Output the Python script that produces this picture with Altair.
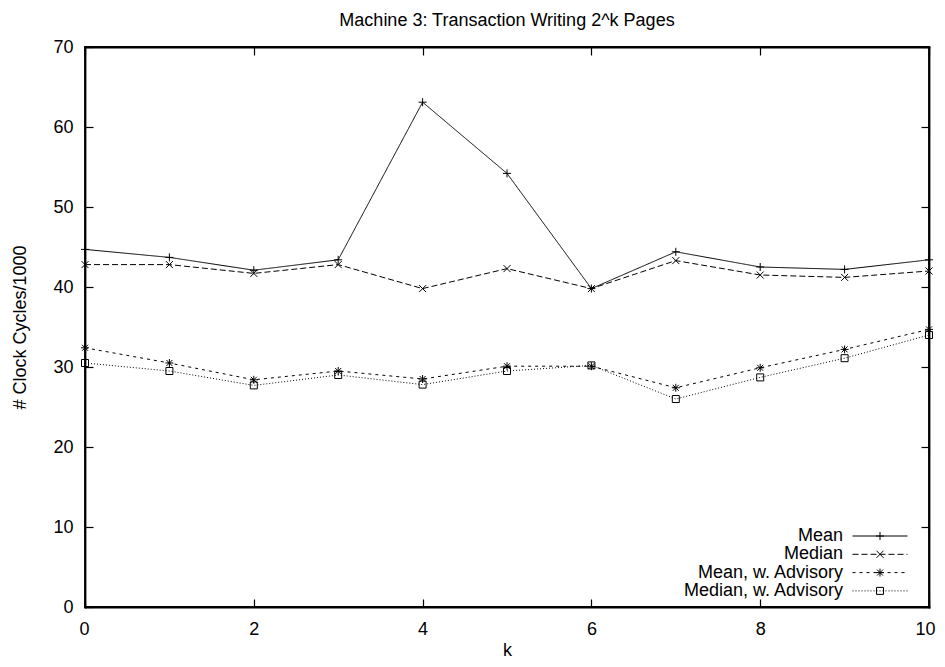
import altair as alt
import pandas as pd

# ---- data ----
k_values = [0, 1, 2, 3, 4, 5, 6, 7, 8, 9, 10]
series_names = ["Mean", "Median", "Mean, w. Advisory", "Median, w. Advisory"]
mean = [44.7, 43.7, 42.1, 43.4, 63.1, 54.2, 39.8, 44.4, 42.5, 42.2, 43.4]
median = [42.8, 42.8, 41.7, 42.8, 39.8, 42.3, 39.8, 43.3, 41.5, 41.2, 42.0]
mean_adv = [32.4, 30.5, 28.4, 29.5, 28.5, 30.1, 30.1, 27.4, 29.9, 32.2, 34.7]
median_adv = [30.5, 29.5, 27.7, 29.0, 27.8, 29.5, 30.2, 26.0, 28.7, 31.1, 34.0]
x_ticks = [0, 2, 4, 6, 8, 10]
y_ticks = [0, 10, 20, 30, 40, 50, 60, 70]
title_text = "Machine 3: Transaction Writing 2^k Pages"
x_title = "k"
y_title = "# Clock Cycles/1000"

rows = []
for name, vals in zip(series_names, [mean, median, mean_adv, median_adv]):
    for k, v in zip(k_values, vals):
        rows.append({"k": k, "value": v, "series": name})
df = pd.DataFrame(rows)

# ---- styling ----
W, H = 844, 560
FONT = "Liberation Sans"
FS = 18
dash_patterns = [[1, 0], [6, 3], [3, 4], [1, 2]]


def plus_p(c=0):
    return f"M{c-4},0H{c+4}M{c},-4V4"


def cross_p(c=0, r=3.5):
    return f"M{c-r},{-r}L{c+r},{r}M{c-r},{r}L{c+r},{-r}"


def square_p(c=0, r=3.5):
    return f"M{c-r},{-r}H{c+r}V{r}H{c-r}Z"


def markers(c=0):
    return [plus_p(c), cross_p(c), plus_p(c) + cross_p(c, 3), square_p(c)]


def sample_line(pattern, c=0, half=27.5):
    x0, x1 = c - half, c + half
    d, g = pattern
    if g == 0:
        return f"M{x0},0H{x1}"
    parts = []
    x = x0
    while x < x1:
        e = min(x + d, x1)
        parts.append(f"M{x},0H{e}")
        x = e + g
    return "".join(parts)


marker_paths = markers(0)
SHIFT = 46
legend_paths = ["M-260,0" + m + sample_line(p, SHIFT)
                for m, p in zip(markers(SHIFT), dash_patterns)]

x_scale = alt.Scale(domain=[0, 10], nice=False, zero=False)
y_scale = alt.Scale(domain=[0, 70], nice=False, zero=True)

label_kw = dict(labelFont=FONT, labelFontSize=FS, labelColor="black",
                titleFont=FONT, titleFontSize=FS, titleFontWeight="normal",
                titleColor="black", grid=False, domain=False)

base = alt.Chart(df)

lines = base.mark_line(color="black", strokeWidth=1).encode(
    x=alt.X("k:Q", scale=x_scale, axis=alt.Axis(
        values=x_ticks, ticks=False, tickSize=0, labelPadding=13,
        labelFlush=True, labelFlushOffset=6,
        title=x_title, titleX=W / 2, titleY=48, titleAlign="center",
        titleBaseline="alphabetic", orient="bottom", **label_kw)),
    y=alt.Y("value:Q", scale=y_scale, axis=alt.Axis(
        values=y_ticks, ticks=False, tickSize=0, labelPadding=12, labelFlush=False,
        title=y_title, titleX=-65, titleY=H / 2, titleAngle=270, titleAlign="center",
        titleBaseline="middle", orient="left", **label_kw)),
    strokeDash=alt.StrokeDash("series:N", scale=alt.Scale(domain=series_names, range=dash_patterns),
                              legend=None),
    detail="series:N",
)

points = base.mark_point(filled=False, color="black", size=4, strokeWidth=1, opacity=1).encode(
    x=alt.X("k:Q", scale=x_scale, axis=None),
    y=alt.Y("value:Q", scale=y_scale, axis=None),
    shape=alt.Shape("series:N", scale=alt.Scale(domain=series_names, range=marker_paths), legend=None),
)

tick_kw = dict(labels=False, grid=False, ticks=True, tickSize=8,
               tickColor="black", tickWidth=1.2, title=None,
               domain=True, domainColor="black", domainWidth=1.8, domainCap="square")

ticks_a = base.mark_point(opacity=0).encode(
    x=alt.X("k:Q", scale=x_scale, axis=alt.Axis(values=x_ticks, orient="top", offset=-H, **tick_kw)),
    y=alt.Y("value:Q", scale=y_scale, axis=alt.Axis(values=y_ticks, orient="right", offset=-W, **tick_kw)),
)
ticks_b = base.mark_point(opacity=0).encode(
    x=alt.X("k:Q", scale=x_scale, axis=alt.Axis(values=x_ticks, orient="bottom", offset=-H, **tick_kw)),
    y=alt.Y("value:Q", scale=y_scale, axis=alt.Axis(values=y_ticks, orient="left", offset=-W, **tick_kw)),
)

legend_layer = base.mark_point(filled=False, color="black", size=4, strokeWidth=1, opacity=1).encode(
    shape=alt.Shape("series:N", scale=alt.Scale(domain=series_names, range=legend_paths),
                    legend=alt.Legend(title=None, orient="none", legendX=700, legendY=480,
                                      labelAlign="right", labelOffset=0, symbolOffset=40,
                                      labelFont=FONT,
                                      labelFontSize=FS, labelColor="black", labelLimit=400,
                                      symbolSize=4, symbolStrokeWidth=1, symbolStrokeColor="black",
                                      symbolFillColor="transparent", rowPadding=0.3, padding=0)),
).transform_filter("false")

chart = alt.layer(lines, points, ticks_a, ticks_b, legend_layer).resolve_axis(
    x="independent", y="independent"
).resolve_scale(shape="independent").properties(
    width=W, height=H,
    background="white",
    autosize=alt.AutoSizeParams(type="none"),
    padding={"left": 77, "top": 39, "right": 8, "bottom": 52},
    title=alt.TitleParams(title_text, font=FONT, fontSize=FS, fontWeight="normal", color="black",
                          anchor="middle", frame="group", offset=0, dy=6, baseline="alphabetic"),
).configure_view(stroke="black", strokeWidth=1.8)

chart.save("out.html", embed_options={"renderer": "svg", "actions": False})
